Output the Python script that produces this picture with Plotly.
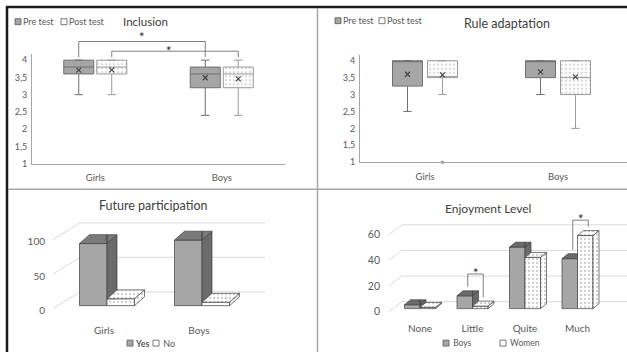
import plotly.graph_objects as go

W, H = 627, 357
FONT = "Lato"
INK = "#595959"
DARK = "#404040"
AXIS_LINE = "#a6a6a6"

# ---------------- data ----------------
groups = ["Girls", "Boys"]
likert_ticks = [1, 1.5, 2, 2.5, 3, 3.5, 4]

# Inclusion (1-4 scale): box statistics for Girls / Boys
incl_pre_q1 = [3.6, 3.2]
incl_pre_median = [3.8, 3.6]
incl_pre_q3 = [4.0, 3.8]
incl_pre_min = [3.0, 2.4]
incl_pre_max = [4.0, 4.0]
incl_pre_mean = [3.71, 3.49]

incl_post_q1 = [3.6, 3.2]
incl_post_median = [3.8, 3.6]
incl_post_q3 = [4.0, 3.8]
incl_post_min = [3.0, 2.4]
incl_post_max = [4.0, 4.0]
incl_post_mean = [3.72, 3.46]

# significance brackets between Girls and Boys (pre, post), bracket level on the scale
incl_bracket_levels = [4.54, 4.26]

# Rule adaptation (1-4 scale)
rule_pre_q1 = [3.25, 3.5]
rule_pre_median = [4.0, 4.0]
rule_pre_q3 = [4.0, 4.0]
rule_pre_min = [2.5, 3.0]
rule_pre_max = [4.0, 4.0]
rule_pre_mean = [3.6, 3.67]

rule_post_q1 = [3.5, 3.0]
rule_post_median = [3.5, 3.5]
rule_post_q3 = [4.0, 4.0]
rule_post_min = [3.0, 2.0]
rule_post_max = [4.0, 4.0]
rule_post_mean = [3.58, 3.52]
rule_post_outlier_group = [0]
rule_post_outlier_value = [1.0]

# Future participation (%)
future_yes = [90, 95]
future_no = [10, 5]
future_ticks = [0, 50, 100]

# Enjoyment level (%)
levels = ["None", "Little", "Quite", "Much"]
enjoy_boys = [3, 10, 48, 39]
enjoy_women = [1, 2, 40, 57]
enjoy_ticks = [0, 20, 40, 60]
enjoy_sig_index = [1, 3]
enjoy_sig_level = [27, 69]


# ---------------- panel geometry ----------------
class Panel:
    """Maps a pixel frame onto an x/y axis pair (category index / value)."""

    def __init__(self, n, cx, sx, left, right, base, sy, top, bottom, v0=0.0):
        s = "" if n == 1 else str(n)
        self.xa, self.ya = "x" + s, "y" + s
        self.xname, self.yname = "xaxis" + s, "yaxis" + s
        self.cx, self.sx, self.left, self.right = cx, sx, left, right
        self.base, self.sy, self.top, self.bottom, self.v0 = base, sy, top, bottom, v0

    def xrange(self):
        return [(self.left - self.cx) / self.sx, (self.right - self.cx) / self.sx]

    def yrange(self):
        return [self.v0 + (self.base - self.bottom) / self.sy,
                self.v0 + (self.base - self.top) / self.sy]

    def xdomain(self):
        return [self.left / W, self.right / W]

    def ydomain(self):
        return [1 - self.bottom / H, 1 - self.top / H]

    def dx(self, px):
        return px / self.sx

    def dy(self, px):
        return px / self.sy

    def ypx(self, v):
        return self.base - (v - self.v0) * self.sy


def px_x(px):
    return px / W


def px_y(py):
    return 1 - py / H


TL = Panel(1, cx=95.25, sx=126.5, left=32, right=285, base=166, sy=35, top=55, bottom=166, v0=1)
TR = Panel(2, cx=425, sx=133, left=360, right=627, base=164.5, sy=34.3, top=55.5, bottom=164.5, v0=1)
BL = Panel(3, cx=107, sx=95, left=48, right=270, base=310, sy=0.7, top=215, bottom=318)
BR = Panel(4, cx=420, sx=52.5, left=383, right=627, base=313, sy=1.3, top=212, bottom=318)

fig = go.Figure()
shapes = []
annotations = []

# ---------------- box plots ----------------
PRE_FILL, PRE_LINE = "#a6a6a6", "#6f6f6f"
POST_LINE = "#9a9a9a"
DOTS = dict(shape=".", fgcolor="#b8b8b8", bgcolor="white", size=4, solidity=0.3)


def draw_boxes(p, shift_px, q1, med, q3, lo, hi, mean, patterned):
    pos = [i + p.dx(shift_px) for i in range(len(q1))]
    bw = p.dx(30)
    if patterned:
        fig.add_trace(go.Bar(
            x=pos, y=[b - a for a, b in zip(q1, q3)], base=q1, width=bw,
            marker=dict(color="white", line_width=0, pattern=DOTS),
            xaxis=p.xa, yaxis=p.ya, hoverinfo="skip"))
    fig.add_trace(go.Box(
        x=pos, q1=q1, median=med, q3=q3, lowerfence=lo, upperfence=hi,
        width=bw, boxpoints=False, whiskerwidth=0.28,
        fillcolor="rgba(0,0,0,0)" if patterned else PRE_FILL,
        line=dict(color=POST_LINE if patterned else PRE_LINE, width=1),
        xaxis=p.xa, yaxis=p.ya, hoverinfo="skip"))
    fig.add_trace(go.Scatter(
        x=pos, y=mean, mode="markers",
        marker=dict(symbol="x-thin", size=5, line=dict(width=1.1, color=DARK)),
        xaxis=p.xa, yaxis=p.ya, hoverinfo="skip"))
    return pos


incl_pre_pos = draw_boxes(TL, -16.5, incl_pre_q1, incl_pre_median, incl_pre_q3,
                          incl_pre_min, incl_pre_max, incl_pre_mean, False)
incl_post_pos = draw_boxes(TL, 16.5, incl_post_q1, incl_post_median, incl_post_q3,
                           incl_post_min, incl_post_max, incl_post_mean, True)
draw_boxes(TR, -17.5, rule_pre_q1, rule_pre_median, rule_pre_q3,
           rule_pre_min, rule_pre_max, rule_pre_mean, False)
rule_post_pos = draw_boxes(TR, 17.5, rule_post_q1, rule_post_median, rule_post_q3,
                           rule_post_min, rule_post_max, rule_post_mean, True)
fig.add_trace(go.Scatter(
    x=[rule_post_pos[g] for g in rule_post_outlier_group], y=rule_post_outlier_value,
    mode="markers", marker=dict(size=3, color="#7f7f7f"), cliponaxis=False,
    xaxis=TR.xa, yaxis=TR.ya, hoverinfo="skip"))

# significance brackets on the inclusion panel (star offset from each bracket in px)
incl_tops = [incl_pre_max, incl_post_max]
for pos, tops, level, star_up, star_dx in zip([incl_pre_pos, incl_post_pos], incl_tops,
                                              incl_bracket_levels, [5, 0], [0, -6]):
    ytop = px_y(TL.ypx(level))
    y_left = px_y(TL.ypx(tops[0]) - 3)
    y_right = px_y(TL.ypx(tops[1]) - 3)
    shapes.append(dict(type="path", xref=TL.xa, yref="paper",
                       path=f"M {pos[0]},{y_left} L {pos[0]},{ytop} L {pos[1]},{ytop} L {pos[1]},{y_right}",
                       line=dict(color="#7f7f7f", width=1)))
    annotations.append(dict(text="*", xref=TL.xa, yref="paper", x=(pos[0] + pos[1]) / 2,
                            xshift=star_dx, y=px_y(TL.ypx(level) - star_up), showarrow=False,
                            font=dict(size=13, color="#262626"), yanchor="middle"))


# ---------------- 3-D style column charts ----------------
def clip(poly, axis, bound, keep_greater):
    def inside(pt):
        return pt[axis] >= bound if keep_greater else pt[axis] <= bound

    def cross(a, b):
        t = (bound - a[axis]) / (b[axis] - a[axis])
        return (a[0] + t * (b[0] - a[0]), a[1] + t * (b[1] - a[1]))

    out = []
    for k in range(len(poly)):
        cur, prev = poly[k], poly[k - 1]
        if inside(cur):
            if not inside(prev):
                out.append(cross(prev, cur))
            out.append(cur)
        elif inside(prev):
            out.append(cross(prev, cur))
    return out


def area(poly):
    return 0.5 * sum(poly[k - 1][0] * poly[k][1] - poly[k][0] * poly[k - 1][1]
                     for k in range(len(poly)))


def visible(poly, x_edge, y_cover):
    """Part of a face not hidden by the neighbouring column's front (x >= x_edge, y <= y_cover)."""
    parts = [clip(poly, 0, x_edge, False),
             clip(clip(poly, 0, x_edge, True), 1, y_cover, True)]
    return [q for q in parts if len(q) >= 3 and abs(area(q)) > 1e-9]


def add_faces(p, polys, color, pattern=None):
    xs, ys = [], []
    for q in polys:
        xs += [pt[0] for pt in q] + [q[0][0], None]
        ys += [pt[1] for pt in q] + [q[0][1], None]
    if not xs:
        return
    kw = dict(fillpattern=pattern) if pattern else {}
    fig.add_trace(go.Scatter(x=xs, y=ys, mode="lines", fill="toself", fillcolor=color,
                             line=dict(color=DARK, width=0.7), xaxis=p.xa, yaxis=p.ya,
                             hoverinfo="skip", **kw))


def columns3d(p, left_vals, right_vals, width_px, dx_px, dy_px, styles):
    w, ddx, ddy = p.dx(width_px), p.dx(dx_px), p.dy(dy_px)
    cats = list(range(len(left_vals)))
    (lf, ls, lt, lpat), (rf, rs, rt, rpat) = styles
    # front faces
    fig.add_trace(go.Bar(x=cats, y=left_vals, offset=-w, width=w,
                         marker=dict(color=lf, line=dict(color=DARK, width=0.7)),
                         xaxis=p.xa, yaxis=p.ya, hoverinfo="skip"))
    rmark = dict(color=rf, line=dict(color=DARK, width=0.7))
    if rpat:
        rmark["pattern"] = rpat
    fig.add_trace(go.Bar(x=cats, y=right_vals, offset=0, width=w, marker=rmark,
                         xaxis=p.xa, yaxis=p.ya, hoverinfo="skip"))
    # side and top faces of the left column, minus what the right column hides
    sides, tops = [], []
    for i, (v, vr) in zip(cats, zip(left_vals, right_vals)):
        xl, xr = i - w, i
        side = [(xr, 0), (xr + ddx, ddy), (xr + ddx, v + ddy), (xr, v)]
        top = [(xl, v), (xr, v), (xr + ddx, v + ddy), (xl + ddx, v + ddy)]
        sides += visible(side, i, vr)
        tops += visible(top, i, vr)
    add_faces(p, sides, ls, lpat)
    add_faces(p, tops, lt, lpat)
    # side and top faces of the right column
    sides, tops = [], []
    for i, v in zip(cats, right_vals):
        xl, xr = i, i + w
        sides.append([(xr, 0), (xr + ddx, ddy), (xr + ddx, v + ddy), (xr, v)])
        tops.append([(xl, v), (xr, v), (xr + ddx, v + ddy), (xl + ddx, v + ddy)])
    add_faces(p, sides, rs, rpat)
    add_faces(p, tops, rt, rpat)
    return w, ddx, ddy


def back_grid(p, ticks, x_front_px, x_back_px, x_end_px, drop_px, rise_px):
    for v in ticks:
        x0, x1, x2 = [(px - p.cx) / p.sx for px in (x_front_px, x_back_px, x_end_px)]
        y0, y1 = v - p.dy(drop_px), v + p.dy(rise_px)
        shapes.append(dict(type="path", xref=p.xa, yref=p.ya, layer="below",
                           path=f"M {x0},{y0} L {x1},{y1} L {x2},{y1}",
                           line=dict(color="#d9d9d9", width=1)))


GRID_DOTS = dict(shape=".", fgcolor="#9a9a9a", bgcolor="white", size=4, solidity=0.25)

back_grid(BL, future_ticks, 53, 80, 265, 3, 14)
columns3d(BL, future_yes, future_no, 27.5, 10, 9,
          [("#a6a6a6", "#6b6b6b", "#7a7a7a", None),
           ("white", "#b4b4b4", "#d0d0d0", GRID_DOTS)])

back_grid(BR, enjoy_ticks, 389, 402, 627, 3, 7)
bw, bdx, bdy = columns3d(BR, enjoy_boys, enjoy_women, 15.5, 6, 5,
                         [("#a6a6a6", "#6b6b6b", "#6b6b6b", None),
                          ("white", "#a6a6a6", "#d0d0d0", GRID_DOTS)])

# significance brackets on the enjoyment panel
for i, level in zip(enjoy_sig_index, enjoy_sig_level):
    xb = i - bw / 2 + bdx / 2
    xw = i + bw / 2 + bdx / 2
    yb = enjoy_boys[i] + bdy + BR.dy(4)
    yw = enjoy_women[i] + bdy + BR.dy(4)
    shapes.append(dict(type="path", xref=BR.xa, yref=BR.ya,
                       path=f"M {xb},{yb} L {xb},{level} L {xw},{level} L {xw},{yw}",
                       line=dict(color="#7f7f7f", width=1)))
    annotations.append(dict(text="*", xref=BR.xa, yref=BR.ya, x=(xb + xw) / 2, y=level,
                            yshift=1, showarrow=False, font=dict(size=13, color="#262626"),
                            yanchor="middle"))

# ---------------- axes ----------------
likert_text = [f"{v:g}".replace(".", ",") for v in likert_ticks]
common = dict(showgrid=False, zeroline=False, ticks="", fixedrange=True)
for p in (TL, TR):
    fig.update_layout(**{
        p.xname: dict(domain=p.xdomain(), range=p.xrange(), anchor=p.ya, showline=True,
                      linecolor=AXIS_LINE, linewidth=1, tickvals=[0, 1], ticktext=groups,
                      tickfont=dict(size=9.5, color=INK), ticklabelstandoff=5, **common),
        p.yname: dict(domain=p.ydomain(), range=p.yrange(), anchor=p.xa, showline=True,
                      linecolor=AXIS_LINE, linewidth=1, tickvals=likert_ticks,
                      ticktext=likert_text, tickfont=dict(size=9, color=INK),
                      ticklabelstandoff=2, **common),
    })

fig.update_layout(**{
    BL.xname: dict(domain=BL.xdomain(), range=BL.xrange(), anchor=BL.ya, showline=False,
                   tickvals=[0, 1], ticktext=groups, tickfont=dict(size=10, color=INK),
                   ticklabelshift=-3, ticklabelstandoff=9, **common),
    BL.yname: dict(domain=BL.ydomain(), range=BL.yrange(), anchor=BL.xa, showline=False,
                   tickvals=future_ticks, tickfont=dict(size=10, color=INK),
                   ticklabelshift=5, ticklabelstandoff=2, **common),
    BR.xname: dict(domain=BR.xdomain(), range=BR.xrange(), anchor=BR.ya, showline=False,
                   tickvals=list(range(len(levels))), ticktext=levels,
                   tickfont=dict(size=10, color=INK), ticklabelstandoff=7, **common),
    BR.yname: dict(domain=BR.ydomain(), range=BR.yrange(), anchor=BR.xa, showline=False,
                   tickvals=enjoy_ticks, tickfont=dict(size=10.5, color=INK),
                   ticklabelshift=3, ticklabelstandoff=2, **common),
})

# ---------------- titles ----------------
for text, cx, cy, size in [("Inclusion", 145, 22, 11.5), ("Rule adaptation", 507, 24, 12.5),
                           ("Future participation", 153, 208, 12.5),
                           ("Enjoyment Level", 488, 211, 12)]:
    annotations.append(dict(text=text, xref="paper", yref="paper", x=px_x(cx), y=px_y(cy),
                            showarrow=False, font=dict(size=size, color=DARK),
                            xanchor="center", yanchor="middle"))


# ---------------- legends (swatch + label) ----------------
def legend_item(x_px, y_px, fill, label, size=9):
    shapes.append(dict(type="rect", xref="paper", yref="paper",
                       x0=px_x(x_px), x1=px_x(x_px + 6), y0=px_y(y_px + 3), y1=px_y(y_px - 3),
                       fillcolor=fill, line=dict(color=INK, width=0.8)))
    annotations.append(dict(text=label, xref="paper", yref="paper", x=px_x(x_px + 6),
                            y=px_y(y_px), showarrow=False, xanchor="left", yanchor="middle",
                            font=dict(size=size, color=INK)))


legend_item(15, 22, PRE_FILL, "Pre test")
legend_item(61, 22, "white", "Post test")
legend_item(335, 21, PRE_FILL, "Pre test")
legend_item(379, 21, "white", "Post test")
legend_item(127, 348, PRE_FILL, "<b>Yes</b>", 9)
legend_item(153, 348, "white", " No", 9)
legend_item(443, 348, PRE_FILL, " Boys", 8.5)
legend_item(500, 348, "white", " Women", 8.5)

# ---------------- frame and panel dividers ----------------
shapes += [
    dict(type="line", xref="paper", yref="paper", x0=px_x(6), x1=1, y0=px_y(7), y1=px_y(7),
         line=dict(color="#1a1a1a", width=2.5)),
    dict(type="line", xref="paper", yref="paper", x0=px_x(7), x1=px_x(7), y0=0, y1=px_y(6),
         line=dict(color="#1a1a1a", width=2.5)),
    dict(type="line", xref="paper", yref="paper", x0=px_x(317.5), x1=px_x(317.5), y0=0,
         y1=px_y(8), line=dict(color="#a6a6a6", width=1.5)),
    dict(type="line", xref="paper", yref="paper", x0=px_x(8), x1=1, y0=px_y(192),
         y1=px_y(192), line=dict(color="#a6a6a6", width=1.5)),
]

fig.update_layout(
    width=W, height=H, margin=dict(l=0, r=0, t=0, b=0),
    paper_bgcolor="white", plot_bgcolor="rgba(0,0,0,0)",
    showlegend=False, barmode="overlay", separators=",.",
    font=dict(family=FONT, size=10, color=INK),
    shapes=shapes, annotations=annotations,
)

fig.write_html("out.html")
